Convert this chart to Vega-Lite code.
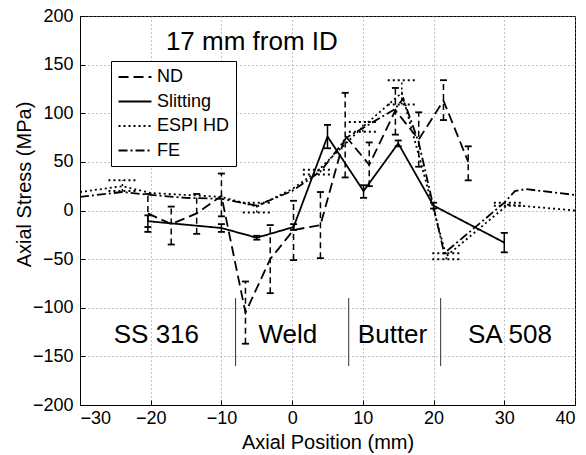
{
  "$schema": "https://vega.github.io/schema/vega-lite/v6.json",
  "width": 495,
  "height": 389,
  "autosize": {"type": "none"},
  "padding": {"left": 80, "top": 16, "right": 11, "bottom": 50},
  "background": "white",
  "config": {
    "font": "Liberation Sans",
    "view": {"stroke": "black", "strokeWidth": 1},
    "axis": {
      "labelFont": "Liberation Sans", "labelFontSize": 18, "labelColor": "black",
      "titleFont": "Liberation Sans", "titleFontSize": 20, "titleFontWeight": "normal", "titleColor": "black",
      "domainColor": "black", "tickColor": "black", "tickSize": -5,
      "gridColor": "#888", "gridDash": [1, 3], "gridWidth": 1
    }
  },
  "datasets": {
    "stress": [
      {"series": "ND", "x": -20.4, "y": -3, "lo": -22, "hi": 17},
      {"series": "ND", "x": -17.1, "y": -14, "lo": -35, "hi": 4},
      {"series": "ND", "x": -13.5, "y": -3, "lo": -24, "hi": 17},
      {"series": "ND", "x": -10, "y": 15, "lo": -6, "hi": 38},
      {"series": "ND", "x": -6.6, "y": -105, "lo": -137, "hi": -73},
      {"series": "ND", "x": -3.1, "y": -50, "lo": -85, "hi": -15},
      {"series": "ND", "x": 0.2, "y": -20, "lo": -51, "hi": 10},
      {"series": "ND", "x": 4, "y": -15, "lo": -49, "hi": 19},
      {"series": "ND", "x": 7.5, "y": 77, "lo": 34, "hi": 121},
      {"series": "ND", "x": 10.9, "y": 47, "lo": 25, "hi": 70},
      {"series": "ND", "x": 14.6, "y": 103, "lo": 78, "hi": 126},
      {"series": "ND", "x": 17.9, "y": 73, "lo": 45, "hi": 101},
      {"series": "ND", "x": 21.4, "y": 113, "lo": 93, "hi": 134},
      {"series": "ND", "x": 24.9, "y": 50, "lo": 31, "hi": 66},
      {"series": "Slitting", "x": -20.4, "y": -11, "lo": -17, "hi": -5},
      {"series": "Slitting", "x": -10, "y": -18, "lo": -22, "hi": -14},
      {"series": "Slitting", "x": -5, "y": -28, "lo": -30, "hi": -26},
      {"series": "Slitting", "x": 0.2, "y": -17, "lo": -20, "hi": -14},
      {"series": "Slitting", "x": 5, "y": 76, "lo": 64, "hi": 88},
      {"series": "Slitting", "x": 10.1, "y": 20, "lo": 13, "hi": 26},
      {"series": "Slitting", "x": 15, "y": 69, "lo": 66, "hi": 72},
      {"series": "Slitting", "x": 20, "y": 5, "lo": 2, "hi": 8},
      {"series": "Slitting", "x": 30, "y": -33, "lo": -43, "hi": -23},
      {"series": "ESPI HD", "x": -30, "y": 19, "lo": null, "hi": null},
      {"series": "ESPI HD", "x": -24, "y": 25, "lo": 20, "hi": 31},
      {"series": "ESPI HD", "x": -20, "y": 18, "lo": null, "hi": null},
      {"series": "ESPI HD", "x": -15, "y": 16, "lo": null, "hi": null},
      {"series": "ESPI HD", "x": -10, "y": 14, "lo": null, "hi": null},
      {"series": "ESPI HD", "x": -5, "y": 4, "lo": -2, "hi": 8},
      {"series": "ESPI HD", "x": 0, "y": 22, "lo": null, "hi": null},
      {"series": "ESPI HD", "x": 3.5, "y": 40, "lo": 37, "hi": 42},
      {"series": "ESPI HD", "x": 10, "y": 86, "lo": 81, "hi": 91},
      {"series": "ESPI HD", "x": 15.5, "y": 121, "lo": 109, "hi": 134},
      {"series": "ESPI HD", "x": 21.8, "y": -47, "lo": -50, "hi": -44},
      {"series": "ESPI HD", "x": 30.5, "y": 6, "lo": 5, "hi": 8},
      {"series": "ESPI HD", "x": 40, "y": 0, "lo": null, "hi": null},
      {"series": "FE", "x": -30, "y": 14, "lo": null, "hi": null},
      {"series": "FE", "x": -24, "y": 19, "lo": null, "hi": null},
      {"series": "FE", "x": -20, "y": 16, "lo": null, "hi": null},
      {"series": "FE", "x": -15, "y": 13, "lo": null, "hi": null},
      {"series": "FE", "x": -10, "y": 12, "lo": null, "hi": null},
      {"series": "FE", "x": -5, "y": 5, "lo": null, "hi": null},
      {"series": "FE", "x": 0, "y": 20, "lo": null, "hi": null},
      {"series": "FE", "x": 4, "y": 40, "lo": null, "hi": null},
      {"series": "FE", "x": 7.7, "y": 75, "lo": null, "hi": null},
      {"series": "FE", "x": 14.5, "y": 104, "lo": null, "hi": null},
      {"series": "FE", "x": 15.7, "y": 115, "lo": null, "hi": null},
      {"series": "FE", "x": 17.9, "y": 70, "lo": null, "hi": null},
      {"series": "FE", "x": 21.5, "y": -44, "lo": null, "hi": null},
      {"series": "FE", "x": 30, "y": 8, "lo": null, "hi": null},
      {"series": "FE", "x": 31.5, "y": 20, "lo": null, "hi": null},
      {"series": "FE", "x": 33, "y": 22, "lo": null, "hi": null},
      {"series": "FE", "x": 40, "y": 16, "lo": null, "hi": null}
    ],
    "labels": [
      {"text": "17 mm from ID", "x": -5.7, "y": 165},
      {"text": "SS 316", "x": -19.2, "y": -136},
      {"text": "Weld", "x": -0.6, "y": -136},
      {"text": "Butter", "x": 14.2, "y": -136},
      {"text": "SA 508", "x": 30.8, "y": -136}
    ],
    "bounds": [
      {"x": -8, "y": -90, "y2": -160},
      {"x": 8, "y": -90, "y2": -160},
      {"x": 21, "y": -90, "y2": -160}
    ]
  },
  "layer": [
    {
      "data": {"name": "stress"},
      "mark": {"type": "line", "color": "black", "strokeWidth": 1.8},
      "encoding": {
        "x": {
          "field": "x", "type": "quantitative",
          "scale": {"domain": [-30, 40], "nice": false, "zero": false},
          "axis": {"values": [-30, -20, -10, 0, 10, 20, 30, 40], "title": "Axial Position (mm)", "labelPadding": 9, "titleY": 43, "titleBaseline": "alphabetic", "grid": true}
        },
        "y": {
          "field": "y", "type": "quantitative",
          "scale": {"domain": [-200, 200], "nice": false, "zero": false},
          "axis": {"values": [-200, -150, -100, -50, 0, 50, 100, 150, 200], "title": "Axial Stress (MPa)", "labelPadding": 12, "titleX": -50, "titleY": 168, "titleBaseline": "alphabetic", "grid": true}
        },
        "strokeDash": {
          "field": "series", "type": "nominal",
          "scale": {"domain": ["ND", "Slitting", "ESPI HD", "FE"], "range": [[10, 5], [1, 0], [2, 3], [9, 3, 2, 3]]},
          "legend": {
            "orient": "none", "legendX": 31, "legendY": 45, "title": null,
            "symbolType": "M-1.83,0H1.83", "symbolSize": 324, "symbolStrokeWidth": 2, "symbolStrokeColor": "black",
            "symbolOffset": 8, "labelOffset": 12,
            "labelFont": "Liberation Sans", "labelFontSize": 18, "labelColor": "black",
            "strokeColor": "black", "fillColor": "white", "padding": 6, "rowPadding": 5.5, "cornerRadius": 0
          }
        }
      }
    },
    {
      "data": {"name": "stress"},
      "transform": [{"filter": "datum.series === 'ND' && datum.lo != null"}],
      "mark": {"type": "rule", "color": "black", "strokeWidth": 1.5, "strokeDash": [6, 4]},
      "encoding": {
        "x": {"field": "x", "type": "quantitative"},
        "y": {"field": "lo", "type": "quantitative"},
        "y2": {"field": "hi"}
      }
    },
    {
      "data": {"name": "stress"},
      "transform": [{"filter": "datum.series === 'Slitting' && datum.lo != null"}],
      "mark": {"type": "rule", "color": "black", "strokeWidth": 1.5},
      "encoding": {
        "x": {"field": "x", "type": "quantitative"},
        "y": {"field": "lo", "type": "quantitative"},
        "y2": {"field": "hi"}
      }
    },
    {
      "data": {"name": "stress"},
      "transform": [{"filter": "datum.series === 'ESPI HD' && datum.lo != null"}],
      "mark": {"type": "rule", "color": "black", "strokeWidth": 1.5, "strokeDash": [2, 3]},
      "encoding": {
        "x": {"field": "x", "type": "quantitative"},
        "y": {"field": "lo", "type": "quantitative"},
        "y2": {"field": "hi"}
      }
    },
    {
      "data": {"name": "stress"},
      "transform": [{"filter": "(datum.series === 'ND' || datum.series === 'Slitting') && datum.lo != null"}],
      "mark": {"type": "point", "shape": "stroke", "filled": false, "color": "black", "opacity": 1, "strokeWidth": 1.8, "size": 49},
      "encoding": {
        "x": {"field": "x", "type": "quantitative"},
        "y": {"field": "lo", "type": "quantitative"}
      }
    },
    {
      "data": {"name": "stress"},
      "transform": [{"filter": "(datum.series === 'ND' || datum.series === 'Slitting') && datum.lo != null"}],
      "mark": {"type": "point", "shape": "stroke", "filled": false, "color": "black", "opacity": 1, "strokeWidth": 1.8, "size": 49},
      "encoding": {
        "x": {"field": "x", "type": "quantitative"},
        "y": {"field": "hi", "type": "quantitative"}
      }
    },
    {
      "data": {"name": "stress"},
      "transform": [{"filter": "datum.series === 'ESPI HD' && datum.lo != null"}],
      "mark": {"type": "point", "shape": "stroke", "filled": false, "color": "black", "opacity": 1, "strokeWidth": 2, "size": 784, "strokeDash": [2, 3]},
      "encoding": {
        "x": {"field": "x", "type": "quantitative"},
        "y": {"field": "lo", "type": "quantitative"}
      }
    },
    {
      "data": {"name": "stress"},
      "transform": [{"filter": "datum.series === 'ESPI HD' && datum.lo != null"}],
      "mark": {"type": "point", "shape": "stroke", "filled": false, "color": "black", "opacity": 1, "strokeWidth": 2, "size": 784, "strokeDash": [2, 3]},
      "encoding": {
        "x": {"field": "x", "type": "quantitative"},
        "y": {"field": "hi", "type": "quantitative"}
      }
    },
    {
      "data": {"name": "bounds"},
      "mark": {"type": "rule", "color": "#333", "strokeWidth": 1},
      "encoding": {
        "x": {"field": "x", "type": "quantitative"},
        "y": {"field": "y", "type": "quantitative"},
        "y2": {"field": "y2"}
      }
    },
    {
      "data": {"name": "labels"},
      "mark": {"type": "text", "font": "Liberation Sans", "fontSize": 26, "color": "black", "align": "center", "baseline": "alphabetic"},
      "encoding": {
        "x": {"field": "x", "type": "quantitative"},
        "y": {"field": "y", "type": "quantitative"},
        "text": {"field": "text"}
      }
    }
  ]
}
